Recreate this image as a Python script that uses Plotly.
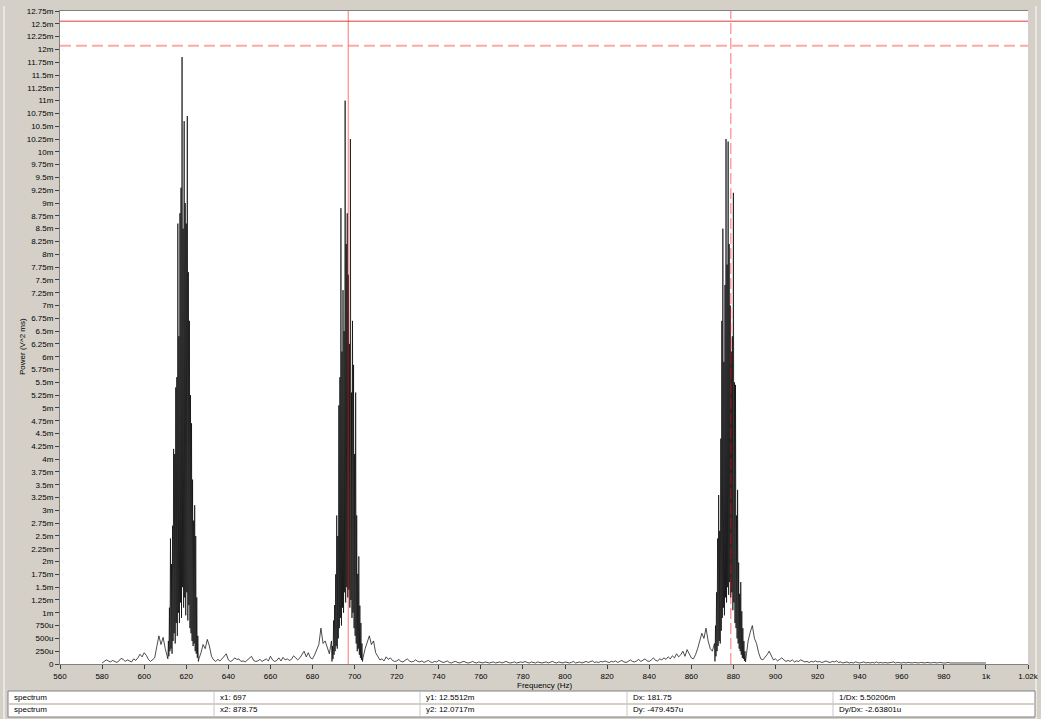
import numpy as np
import plotly.graph_objects as go

# ---- spectrum data (power in mV^2 ms, i.e. the "m" unit of the axis) ----
# Noise floor, 1 Hz steps
noise_580_611 = [0.02, 0.05, 0.08, 0.06, 0.04, 0.07, 0.05, 0.03, 0.06, 0.11,
                 0.09, 0.05, 0.08, 0.06, 0.04, 0.10, 0.07, 0.12, 0.19, 0.14,
                 0.22, 0.17, 0.09, 0.05, 0.08, 0.12, 0.34, 0.55, 0.38, 0.52,
                 0.30, 0.12]
noise_626_689 = [0.10, 0.22, 0.38, 0.30, 0.48, 0.35, 0.15, 0.08, 0.05, 0.09,
                 0.06, 0.10, 0.14, 0.20, 0.08, 0.05, 0.07, 0.12, 0.09, 0.10,
                 0.05, 0.06, 0.04, 0.08, 0.12, 0.15, 0.07, 0.05, 0.06, 0.09,
                 0.05, 0.07, 0.10, 0.06, 0.15, 0.08, 0.05, 0.07, 0.12, 0.06,
                 0.13, 0.08, 0.10, 0.07, 0.09, 0.16, 0.11, 0.08, 0.12, 0.18,
                 0.25, 0.14, 0.22, 0.12, 0.10, 0.18, 0.30, 0.38, 0.70, 0.40,
                 0.45, 0.32, 0.20, 0.45]
noise_704_871 = [0.12, 0.30, 0.42, 0.55, 0.38, 0.45, 0.22, 0.15, 0.08, 0.10,
                 0.06, 0.14, 0.09, 0.12, 0.07, 0.05, 0.06, 0.09, 0.05, 0.04,
                 0.07, 0.10, 0.06, 0.04, 0.05, 0.08, 0.05, 0.04, 0.06, 0.03,
                 0.05, 0.07, 0.04, 0.03, 0.05, 0.04, 0.07, 0.05, 0.03, 0.04,
                 0.06, 0.03, 0.02, 0.04, 0.05, 0.03, 0.02, 0.04, 0.05, 0.03,
                 0.02, 0.03, 0.05, 0.03, 0.02, 0.04, 0.03, 0.02, 0.04, 0.03,
                 0.02, 0.03, 0.04, 0.02, 0.03, 0.04, 0.02, 0.03, 0.05, 0.03,
                 0.02, 0.03, 0.04, 0.02, 0.03, 0.04, 0.03, 0.05, 0.03, 0.02,
                 0.04, 0.03, 0.02, 0.04, 0.03, 0.02, 0.03, 0.04, 0.02, 0.03,
                 0.05, 0.03, 0.02, 0.04, 0.03, 0.02, 0.04, 0.03, 0.02, 0.03,
                 0.05, 0.02, 0.03, 0.04, 0.02, 0.03, 0.05, 0.03, 0.04, 0.06,
                 0.03, 0.04, 0.03, 0.05, 0.04, 0.06, 0.04, 0.03, 0.05, 0.04,
                 0.06, 0.03, 0.05, 0.07, 0.04, 0.03, 0.05, 0.08, 0.05, 0.04,
                 0.06, 0.09, 0.05, 0.07, 0.10, 0.06, 0.05, 0.08, 0.12, 0.07,
                 0.06, 0.10, 0.08, 0.12, 0.09, 0.14, 0.10, 0.16, 0.12, 0.20,
                 0.14, 0.18, 0.25, 0.15, 0.28, 0.20, 0.12, 0.10, 0.18, 0.30,
                 0.45, 0.60, 0.50, 0.70, 0.45, 0.30, 0.25, 0.40]
noise_886_1000 = [0.15, 0.45, 0.62, 0.75, 0.50, 0.40, 0.22, 0.10, 0.08, 0.12,
                  0.18, 0.25, 0.15, 0.08, 0.10, 0.06, 0.09, 0.12, 0.08, 0.05,
                  0.07, 0.05, 0.08, 0.04, 0.06, 0.05, 0.08, 0.06, 0.04, 0.05,
                  0.03, 0.05, 0.04, 0.06, 0.04, 0.05, 0.03, 0.04, 0.06, 0.04,
                  0.03, 0.05, 0.04, 0.06, 0.03, 0.04, 0.02, 0.03, 0.04, 0.02,
                  0.03, 0.02, 0.04, 0.03, 0.02, 0.03, 0.04, 0.02, 0.03, 0.02,
                  0.03, 0.02, 0.04, 0.02, 0.03, 0.02, 0.03, 0.02, 0.02, 0.03,
                  0.04, 0.02, 0.03, 0.02, 0.02, 0.03, 0.02, 0.03, 0.02, 0.02,
                  0.03, 0.02, 0.02, 0.03, 0.02, 0.02, 0.03, 0.02, 0.02, 0.03,
                  0.02, 0.02, 0.03, 0.02, 0.02, 0.02, 0.03, 0.02, 0.02, 0.03,
                  0.02, 0.02, 0.02, 0.03, 0.02, 0.02, 0.02, 0.03, 0.02, 0.02,
                  0.02, 0.02, 0.02, 0.02, 0.02]

# Tone clusters, 0.25 Hz bins: spikes on the half-Hz bins, troughs between
tone1_start = 611.25
tone1_troughs = [0.10, 0.15, 0.25, 0.30, 0.20, 0.45, 0.60, 0.40, 0.80, 0.55,
                 1.00, 0.80, 1.20, 0.90, 1.50, 1.10, 1.30, 0.95, 1.40, 0.85,
                 1.15, 0.70, 0.60, 0.45, 0.35, 0.40, 0.25, 0.20, 0.12, 0.05]
tone1_spikes = [0.45, 1.10, 2.45, 1.95, 2.70, 4.20, 4.10, 5.40, 5.60, 8.60,
                6.40, 8.80, 9.30, 11.85, 8.50, 10.60, 9.00, 8.60, 10.70, 7.65,
                6.70, 5.25, 4.70, 3.60, 2.80, 3.10, 2.50, 1.30, 0.55]

tone2_start = 689.25
tone2_troughs = [0.05, 0.10, 0.18, 0.25, 0.35, 0.30, 0.50, 0.70, 0.90, 0.75,
                 1.10, 1.00, 1.40, 1.20, 1.50, 1.30, 1.45, 1.10, 1.25, 0.90,
                 1.00, 0.70, 0.55, 0.40, 0.25, 0.30, 0.18, 0.12, 0.08, 0.05]
tone2_spikes = [0.35, 0.85, 1.15, 1.75, 2.90, 2.50, 5.05, 5.60, 8.90, 6.10,
                7.30, 6.50, 11.00, 8.20, 8.80, 7.60, 6.25, 10.25, 5.30, 6.70,
                5.84, 4.10, 5.30, 2.90, 1.76, 2.10, 1.14, 0.80, 0.40]

tone3_start = 871.25
tone3_troughs = [0.05, 0.15, 0.25, 0.35, 0.45, 0.40, 0.65, 0.90, 1.10, 0.95,
                 1.30, 1.20, 1.50, 1.35, 1.60, 1.30, 1.40, 1.05, 1.20, 0.80,
                 0.70, 0.50, 0.40, 0.30, 0.25, 0.18, 0.12, 0.10, 0.06, 0.04]
tone3_spikes = [0.75, 1.40, 2.45, 3.30, 2.60, 4.40, 6.70, 8.50, 5.90, 7.40,
                10.25, 7.80, 10.20, 8.20, 7.00, 6.10, 6.40, 9.20, 5.50, 5.45,
                2.90, 3.40, 1.98, 1.37, 1.60, 1.03, 0.70, 0.45, 0.25]

# Cursors (Hz, mV^2 ms) and the readout table
cursor_x1, cursor_y1 = 697.0, 12.5512
cursor_x2, cursor_y2 = 878.75, 12.0717
readout_rows = [
    ["spectrum", "x1: 697", "y1: 12.5512m", "Dx: 181.75", "1/Dx: 5.50206m"],
    ["spectrum", "x2: 878.75", "y2: 12.0717m", "Dy: -479.457u", "Dy/Dx: -2.63801u"],
]

x_ticks = list(range(560, 1021, 20))
y_ticks = [i * 0.25 for i in range(52)]


def noise_band(start, values):
    return start + np.arange(len(values)), np.asarray(values, float)


def tone_band(start, troughs, spikes):
    vals = np.empty(len(troughs) + len(spikes))
    vals[0::2] = troughs
    vals[1::2] = spikes
    return start + 0.25 * np.arange(len(vals)), vals


parts = [
    noise_band(580, noise_580_611),
    tone_band(tone1_start, tone1_troughs, tone1_spikes),
    noise_band(626, noise_626_689),
    tone_band(tone2_start, tone2_troughs, tone2_spikes),
    noise_band(704, noise_704_871),
    tone_band(tone3_start, tone3_troughs, tone3_spikes),
    noise_band(886, noise_886_1000),
]
freq = np.concatenate([p[0] for p in parts])
power = np.concatenate([p[1] for p in parts])


def x_label(v):
    return "1k" if v == 1000 else ("1.02k" if v == 1020 else str(v))


def y_label(v):
    if v == 0:
        return "0"
    if v < 1:
        return f"{int(round(v * 1000))}u"
    return f"{v:g}m"


# ---- figure geometry (pixels) ----
W, H = 1041, 719
ML, MR, MT, MB = 60, 13, 11, 55
PW, PH = W - ML - MR, H - MT - MB


def px(x):
    return (x - ML) / PW


def py(y):
    return (H - MB - y) / PH


FONT = "Liberation Sans, Arial, sans-serif"
FS = 8
BG = "#d4d0c8"

fig = go.Figure()
fig.add_trace(go.Scatter(x=freq, y=power, mode="lines",
                         line=dict(color="#000000", width=0.7),
                         hoverinfo="skip", showlegend=False))

shapes = []
# cursor 1: solid lines
shapes.append(dict(type="line", xref="x", yref="paper", x0=cursor_x1, x1=cursor_x1,
                   y0=0, y1=1, line=dict(color="rgba(255,0,0,0.42)", width=1.3),
                   layer="above"))
shapes.append(dict(type="line", xref="paper", yref="y", x0=0, x1=1,
                   y0=cursor_y1, y1=cursor_y1,
                   line=dict(color="rgba(215,40,40,0.9)", width=1), layer="above"))
# cursor 2: dashed lines
shapes.append(dict(type="line", xref="x", yref="paper", x0=cursor_x2, x1=cursor_x2,
                   y0=0, y1=1, line=dict(color="rgba(255,0,0,0.38)", width=1.5,
                                         dash="11px,4px"), layer="above"))
shapes.append(dict(type="line", xref="paper", yref="y", x0=0, x1=1,
                   y0=cursor_y2, y1=cursor_y2,
                   line=dict(color="rgba(255,60,60,0.45)", width=2,
                             dash="11px,5px"), layer="above"))

# readout table under the plot
tx0, tx1, ty0, ty1, ymid = 8, 1035, 691, 717, 704
shapes.append(dict(type="rect", xref="paper", yref="paper",
                   x0=px(tx0), x1=px(tx1), y0=py(ty1), y1=py(ty0),
                   fillcolor="white", line=dict(color="#808080", width=1),
                   layer="above"))
shapes.append(dict(type="line", xref="paper", yref="paper",
                   x0=px(tx0 + 1), x1=px(tx1 - 1), y0=py(ymid), y1=py(ymid),
                   line=dict(color=BG, width=2), layer="above"))
col_edges = [214, 420, 627, 833]
for cx in col_edges:
    shapes.append(dict(type="line", xref="paper", yref="paper",
                       x0=px(cx), x1=px(cx), y0=py(ty1), y1=py(ty0),
                       line=dict(color="#c8c8c8", width=1), layer="above"))
# window frame edges
shapes.append(dict(type="line", xref="paper", yref="paper",
                   x0=px(4), x1=px(4), y0=py(719), y1=py(6),
                   line=dict(color="#ffffff", width=1), layer="below"))
shapes.append(dict(type="line", xref="paper", yref="paper",
                   x0=px(1036), x1=px(1036), y0=py(719), y1=py(6),
                   line=dict(color="#ffffff", width=1), layer="below"))

annotations = []
text_x = [12, 218, 424, 631, 837]
row_y = [697.5, 710]
for r, row in enumerate(readout_rows):
    for c, txt in enumerate(row):
        annotations.append(dict(text=txt, xref="paper", yref="paper",
                                x=px(text_x[c]), y=py(row_y[r]),
                                xanchor="left", yanchor="middle", showarrow=False,
                                font=dict(family=FONT, size=FS, color="black")))
annotations.append(dict(text="Frequency (Hz)", xref="paper", yref="paper",
                        x=px(544), y=py(685.5), xanchor="center", yanchor="middle",
                        showarrow=False, font=dict(family=FONT, size=FS, color="black")))
annotations.append(dict(text="Power (V^2 ms)", xref="paper", yref="paper",
                        x=px(22), y=py(347), xanchor="center", yanchor="middle",
                        textangle=-90, showarrow=False,
                        font=dict(family=FONT, size=FS, color="black")))

fig.update_layout(
    width=W, height=H,
    margin=dict(l=ML, r=MR, t=MT, b=MB, pad=0, autoexpand=False),
    paper_bgcolor=BG, plot_bgcolor="white",
    shapes=shapes, annotations=annotations,
    font=dict(family=FONT, size=FS, color="black"),
    xaxis=dict(range=[560, 1020], tickmode="array", tickvals=x_ticks,
               ticktext=[x_label(v) for v in x_ticks], ticks="outside",
               ticklen=4, tickcolor="#404040", showgrid=False, zeroline=False,
               showline=True, linecolor="#808080", linewidth=1, mirror=True,
               automargin=False,
               tickfont=dict(family=FONT, size=FS, color="black")),
    yaxis=dict(range=[0, 12.75], tickmode="array", tickvals=y_ticks,
               ticktext=[y_label(v) for v in y_ticks], ticks="outside",
               ticklen=4, tickcolor="#404040", showgrid=False, zeroline=False,
               showline=True, linecolor="#808080", linewidth=1,
               automargin=False,
               tickfont=dict(family=FONT, size=FS, color="black")),
)

fig.write_html("out.html", config={"displayModeBar": False})
